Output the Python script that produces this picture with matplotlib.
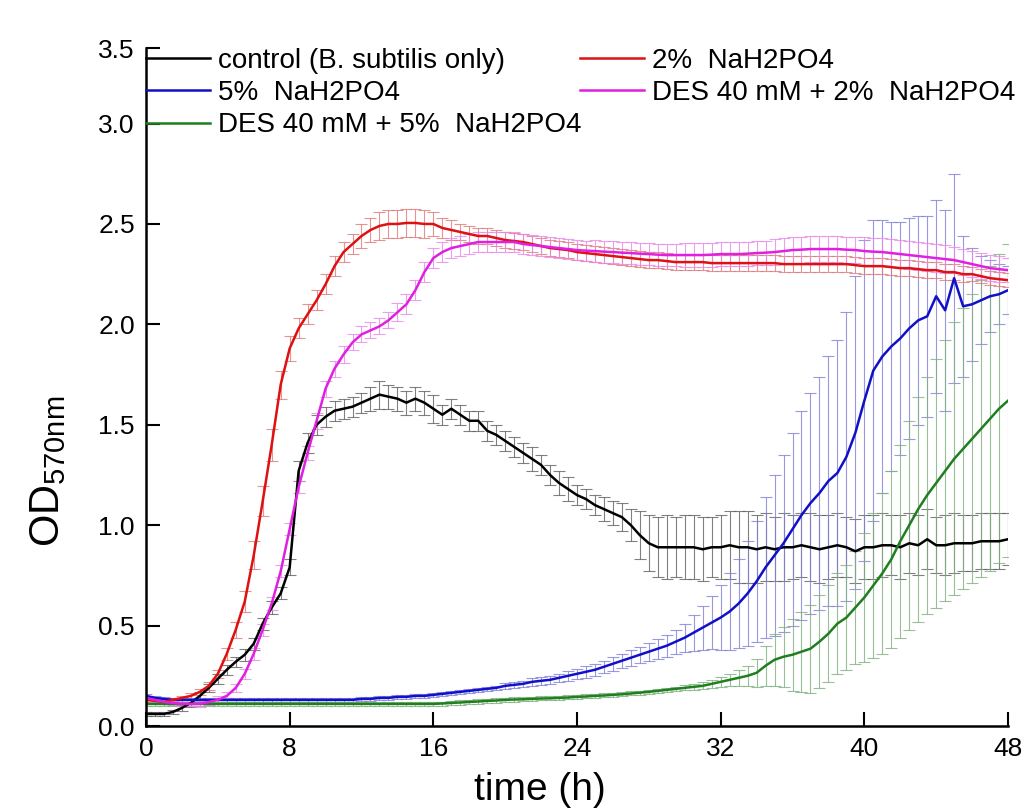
import numpy as np
import matplotlib
matplotlib.use("Agg")
import matplotlib.pyplot as plt

plt.rcParams['font.family'] = ['Liberation Sans', 'DejaVu Sans']
plt.rcParams['mathtext.fontset'] = 'custom'
plt.rcParams['mathtext.rm'] = 'Liberation Sans'

# sampling times (h), every 0.5 h
t = np.arange(0, 48.5, 0.5)

ctrl = [0.06, 0.06, 0.06, 0.07, 0.09, 0.115, 0.15, 0.19, 0.235, 0.28,
        0.32, 0.355, 0.41, 0.51, 0.59, 0.66, 0.79, 1.27, 1.41, 1.50,
        1.54, 1.57, 1.58, 1.59, 1.61, 1.63, 1.65, 1.64, 1.63, 1.61,
        1.63, 1.61, 1.58, 1.55, 1.58, 1.55, 1.52, 1.52, 1.47, 1.45,
        1.42, 1.39, 1.36, 1.33, 1.30, 1.25, 1.21, 1.18, 1.15, 1.13,
        1.10, 1.08, 1.06, 1.04, 1.00, 0.95, 0.91, 0.89, 0.89, 0.89,
        0.89, 0.89, 0.88, 0.89, 0.89, 0.90, 0.89, 0.89, 0.88, 0.89,
        0.88, 0.89, 0.89, 0.90, 0.89, 0.88, 0.89, 0.90, 0.89, 0.87,
        0.89, 0.89, 0.90, 0.90, 0.89, 0.91, 0.90, 0.93, 0.90, 0.90,
        0.91, 0.91, 0.91, 0.92, 0.92, 0.92,
        0.93]
ctrl_err = [0.01, 0.01, 0.01, 0.01, 0.015, 0.02, 0.02, 0.02, 0.025, 0.025,
            0.025, 0.03, 0.03, 0.03, 0.03, 0.03, 0.04, 0.05, 0.05, 0.05,
            0.05, 0.05, 0.05, 0.05, 0.05, 0.06, 0.07, 0.06, 0.06, 0.06,
            0.06, 0.06, 0.07, 0.05, 0.05, 0.05, 0.05, 0.05, 0.05, 0.05,
            0.05, 0.05, 0.05, 0.06, 0.05, 0.05, 0.06, 0.06, 0.05, 0.05,
            0.05, 0.06, 0.06, 0.07, 0.08, 0.12, 0.14, 0.15, 0.16, 0.15,
            0.16, 0.16, 0.16, 0.15, 0.16, 0.17, 0.18, 0.18, 0.17, 0.17,
            0.16, 0.17, 0.16, 0.16, 0.17, 0.17, 0.16, 0.16, 0.15, 0.16,
            0.16, 0.16, 0.16, 0.15, 0.16, 0.15, 0.15, 0.15, 0.14, 0.15,
            0.15, 0.14, 0.14, 0.14, 0.14, 0.14,
            0.13]

p2 = [0.13, 0.125, 0.12, 0.13, 0.14, 0.15, 0.17, 0.20, 0.26, 0.36,
      0.48, 0.62, 0.85, 1.12, 1.40, 1.70, 1.88, 1.98, 2.05, 2.12,
      2.20, 2.29, 2.36, 2.40, 2.44, 2.47, 2.49, 2.50, 2.50, 2.505,
      2.505, 2.50, 2.50, 2.48, 2.47, 2.46, 2.45, 2.44, 2.44, 2.43,
      2.42, 2.415, 2.41, 2.40, 2.39, 2.38, 2.375, 2.37, 2.36, 2.355,
      2.35, 2.345, 2.34, 2.335, 2.33, 2.325, 2.32, 2.32, 2.315, 2.31,
      2.31, 2.31, 2.31, 2.305, 2.305, 2.305, 2.305, 2.305, 2.305, 2.305,
      2.305, 2.30, 2.30, 2.30, 2.30, 2.30, 2.30, 2.30, 2.30, 2.295,
      2.29, 2.29, 2.29, 2.285, 2.28, 2.28, 2.275, 2.27, 2.27, 2.26,
      2.26, 2.25, 2.25, 2.24, 2.23, 2.225,
      2.22]
p2_err = [0.01, 0.01, 0.01, 0.01, 0.01, 0.015, 0.015, 0.02, 0.02, 0.03,
          0.04, 0.05, 0.07, 0.075, 0.08, 0.07, 0.06, 0.05, 0.05, 0.05,
          0.05, 0.05, 0.05, 0.05, 0.06, 0.06, 0.07, 0.07, 0.07, 0.07,
          0.07, 0.07, 0.06, 0.05, 0.05, 0.04, 0.04, 0.04, 0.04, 0.04,
          0.04, 0.04, 0.04, 0.04, 0.04, 0.04, 0.04, 0.04, 0.04, 0.04,
          0.04, 0.04, 0.04, 0.04, 0.04, 0.04, 0.04, 0.04, 0.04, 0.04,
          0.04, 0.04, 0.04, 0.04, 0.04, 0.04, 0.04, 0.04, 0.04, 0.04,
          0.04, 0.04, 0.04, 0.04, 0.04, 0.04, 0.04, 0.04, 0.04, 0.04,
          0.04, 0.04, 0.04, 0.04, 0.04, 0.04, 0.04, 0.04, 0.04, 0.04,
          0.04, 0.04, 0.035, 0.035, 0.035, 0.035,
          0.035]

p5 = [0.15, 0.14, 0.135, 0.13, 0.13, 0.13, 0.13, 0.13, 0.13, 0.13,
      0.13, 0.13, 0.13, 0.13, 0.13, 0.13, 0.13, 0.13, 0.13, 0.13,
      0.13, 0.13, 0.13, 0.13, 0.135, 0.135, 0.14, 0.14, 0.145, 0.145,
      0.15, 0.15, 0.155, 0.16, 0.165, 0.17, 0.175, 0.18, 0.185, 0.19,
      0.20, 0.205, 0.21, 0.22, 0.225, 0.23, 0.24, 0.25, 0.26, 0.27,
      0.28, 0.295, 0.31, 0.325, 0.34, 0.355, 0.37, 0.385, 0.40, 0.42,
      0.44, 0.465, 0.49, 0.515, 0.54, 0.57, 0.61, 0.66, 0.72, 0.79,
      0.85, 0.91, 0.98, 1.05, 1.11, 1.16, 1.22, 1.26, 1.34, 1.46,
      1.62, 1.77, 1.84, 1.89, 1.93, 1.98, 2.02, 2.04, 2.14, 2.07,
      2.23, 2.09, 2.10, 2.12, 2.14, 2.15,
      2.17]
p5_err = ([0.01] * 40 +
          [0.015, 0.015, 0.015, 0.02, 0.02, 0.02, 0.02, 0.025, 0.025, 0.03,
           0.03, 0.03, 0.035, 0.035, 0.04, 0.04, 0.045, 0.05, 0.055, 0.06,
           0.07, 0.09, 0.11, 0.13, 0.16, 0.19, 0.22, 0.26, 0.30, 0.35,
           0.40, 0.44, 0.48, 0.52, 0.55, 0.58, 0.62, 0.66, 0.72, 0.78,
           0.80, 0.75, 0.68, 0.62, 0.58, 0.55, 0.52, 0.50, 0.48, 0.50,
           0.52, 0.35, 0.28, 0.22, 0.18, 0.15,
           0.12])

des_p2 = [0.14, 0.13, 0.12, 0.115, 0.11, 0.11, 0.11, 0.12, 0.13, 0.15,
          0.19, 0.26, 0.36, 0.48, 0.61, 0.77, 0.98, 1.19, 1.36, 1.52,
          1.68, 1.78, 1.85, 1.91, 1.95, 1.97, 1.99, 2.02, 2.06, 2.10,
          2.17, 2.26, 2.33, 2.36, 2.38, 2.39, 2.40, 2.41, 2.41, 2.41,
          2.41, 2.41, 2.40, 2.395, 2.39, 2.385, 2.38, 2.375, 2.37, 2.367,
          2.365, 2.362, 2.36, 2.357, 2.355, 2.352, 2.35, 2.347, 2.345, 2.345,
          2.345, 2.345, 2.345, 2.347, 2.35, 2.35, 2.35, 2.352, 2.355, 2.357,
          2.36, 2.365, 2.37, 2.372, 2.375, 2.375, 2.375, 2.375, 2.372, 2.37,
          2.365, 2.362, 2.36, 2.355, 2.35, 2.345, 2.34, 2.335, 2.33, 2.325,
          2.32, 2.31, 2.30, 2.29, 2.28, 2.275,
          2.27]
des_p2_err = ([0.01] * 6 + [0.015, 0.015, 0.02, 0.02,
              0.02, 0.025, 0.03, 0.03, 0.03, 0.03, 0.03, 0.03, 0.035, 0.04,
              0.04, 0.04, 0.04, 0.04, 0.04, 0.04, 0.04, 0.04, 0.045, 0.05] +
              [0.05] * 20 + [0.055] * 10 + [0.06] * 10 + [0.065] * 10 +
              [0.07] * 10 + [0.065] * 6 + [0.06])

des_p5 = [0.11, 0.11, 0.11, 0.11, 0.11, 0.11, 0.11, 0.11, 0.11, 0.11,
          0.11, 0.11, 0.11, 0.11, 0.11, 0.11, 0.11, 0.11, 0.11, 0.11,
          0.11, 0.11, 0.11, 0.11, 0.11, 0.11, 0.11, 0.11, 0.11, 0.11,
          0.11, 0.11, 0.11, 0.112, 0.115, 0.117, 0.12, 0.122, 0.125, 0.127,
          0.13, 0.132, 0.133, 0.135, 0.137, 0.138, 0.14, 0.142, 0.145, 0.147,
          0.15, 0.152, 0.155, 0.158, 0.162, 0.166, 0.17, 0.175, 0.18, 0.185,
          0.19, 0.195, 0.20, 0.21, 0.22, 0.23, 0.24, 0.25, 0.265, 0.30,
          0.33, 0.345, 0.355, 0.37, 0.385, 0.42, 0.46, 0.51, 0.54, 0.59,
          0.64, 0.70, 0.76, 0.83, 0.92, 1.00, 1.08, 1.15, 1.21, 1.27,
          1.33, 1.38, 1.43, 1.48, 1.53, 1.58,
          1.62]
des_p5_err = ([0.01] * 60 +
              [0.012, 0.015, 0.018, 0.02, 0.025, 0.03, 0.04, 0.05, 0.07, 0.10,
               0.13, 0.15, 0.18, 0.20, 0.22, 0.23, 0.24, 0.25, 0.26, 0.28,
               0.32, 0.36, 0.40, 0.44, 0.48, 0.52, 0.56, 0.59, 0.62, 0.65,
               0.68, 0.70, 0.72, 0.74, 0.76, 0.77,
               0.78])

fig = plt.figure(figsize=(10.31, 8.10), dpi=100)
ax = fig.add_axes([0.1416, 0.1037, 0.8361, 0.837])

series = [
    (ctrl, ctrl_err, '#000000', '#606060', 'control (B. subtilis only)'),
    (p5, p5_err, '#1010c8', '#8080d8', '5%  NaH2PO4'),
    (des_p5, des_p5_err, '#1f7f1f', '#80b080', 'DES 40 mM + 5%  NaH2PO4'),
    (p2, p2_err, '#dd1111', '#e07878', '2%  NaH2PO4'),
    (des_p2, des_p2_err, '#e020e0', '#e888e8', 'DES 40 mM + 2%  NaH2PO4'),
]

handles = []
for y, e, c, ec, lab in series:
    ax.errorbar(t, y, yerr=e, fmt='none', ecolor=ec, elinewidth=0.8,
                capsize=4, capthick=0.8, alpha=0.8)
for y, e, c, ec, lab in series:
    h, = ax.plot(t, y, color=c, lw=1.8, label=lab)
    handles.append(h)

ax.set_xlim(0, 48)
ax.set_ylim(0, 3.376)
ax.set_xticks([0, 8, 16, 24, 32, 40, 48])
ax.set_yticks([0, 0.5, 1.0, 1.5, 2.0, 2.5, 3.0, 3.376])
ax.set_yticklabels(['0.0', '0.5', '1.0', '1.5', '2.0', '2.5', '3.0', '3.5'])
ax.tick_params(direction='in', length=10, width=1.5, labelsize=19, pad=8)
for s in ['top', 'right']:
    ax.spines[s].set_visible(False)
for s in ['left', 'bottom']:
    ax.spines[s].set_linewidth(1.8)

ax.set_xlabel('time (h)', fontsize=28)
ax.xaxis.set_label_coords(0.457, -0.068)
ax.set_ylabel(r'OD$_{\rm 570nm}$', fontsize=30)
ax.yaxis.set_label_coords(-0.09, 0.375)

leg_kw = dict(frameon=False, fontsize=20, handlelength=2.3, handletextpad=0.3,
              labelspacing=0.22, borderpad=0, borderaxespad=0)
leg1 = ax.legend(handles=handles[:3], loc='upper left',
                 bbox_to_anchor=(0.0, 1.0), **leg_kw)
ax.add_artist(leg1)
ax.legend(handles=handles[3:], loc='upper left',
          bbox_to_anchor=(0.5035, 1.0), **leg_kw)

fig.savefig('out.png', dpi=100)
